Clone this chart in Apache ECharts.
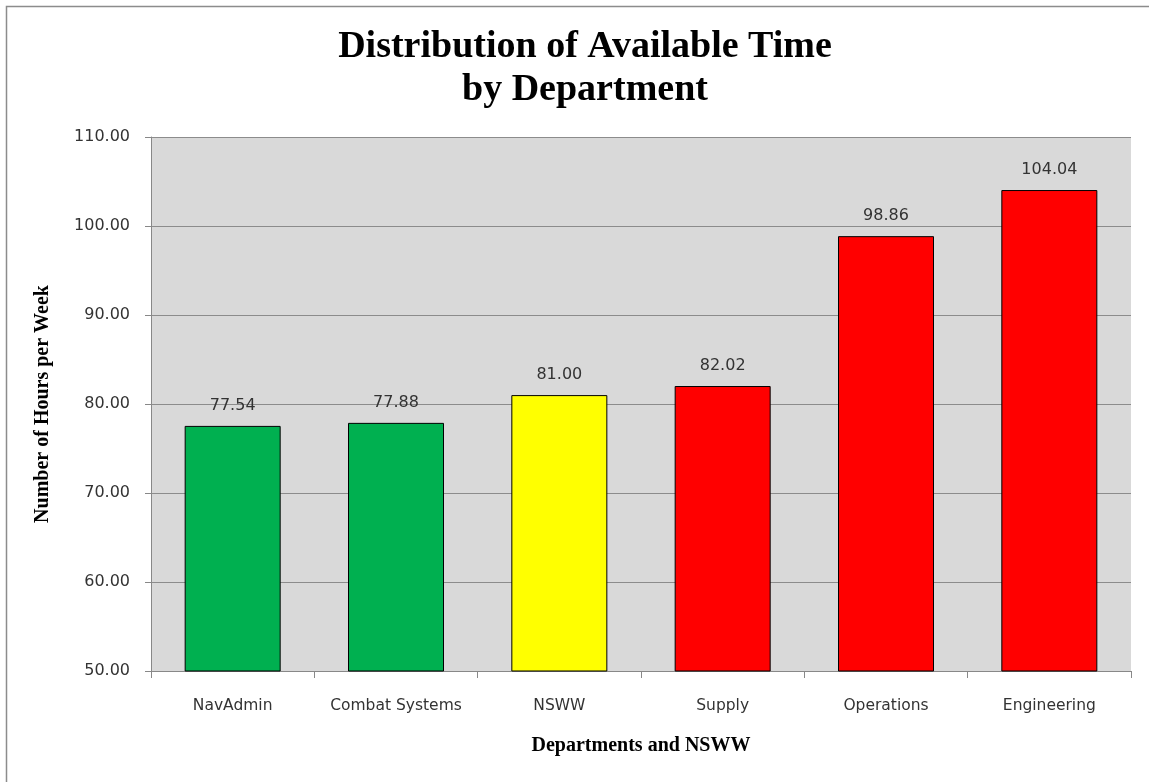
<!DOCTYPE html>
<html>
<head>
<meta charset="utf-8">
<script src="https://cdn.jsdelivr.net/npm/echarts@6/dist/echarts.min.js"></script>
<style>
  html, body { margin: 0; padding: 0; background: #fff; }
  #chart { width: 1149px; height: 782px; }
</style>
</head>
<body>
<div id="chart"></div>
<script>
const departments = ['NavAdmin', 'Combat Systems', 'NSWW', 'Supply', 'Operations', 'Engineering']
const hours = [77.54, 77.88, 81.00, 82.02, 98.86, 104.04]
const barColors = ['#00b050', '#00b050', '#ffff00', '#ff0000', '#ff0000', '#ff0000']

const chart = echarts.init(document.getElementById('chart'))

const options = {
  backgroundColor: '#fff',
  animation: false,
  graphic: [
    {
      // outer chart border (right / bottom edges are cropped off in the original)
      type: 'polyline',
      shape: { points: [[6.5, 782], [6.5, 6.5], [1149, 6.5]] },
      style: { fill: 'none', stroke: '#8c8c8c', lineWidth: 1.5 },
      silent: true,
    },
  ],
  title: {
    text: 'Distribution of Available Time\nby Department',
    left: 580,
    textAlign: 'center',
    top: 21,
    textStyle: {
      fontFamily: 'Liberation Serif',
      fontWeight: 'bold',
      fontSize: 38,
      lineHeight: 43,
      color: '#000',
    },
  },
  grid: {
    left: 151,
    top: 137,
    right: 18,
    bottom: 111,
    show: true,
    backgroundColor: '#d9d9d9',
    borderWidth: 0,
  },
  xAxis: {
    type: 'category',
    data: departments,
    name: 'Departments and NSWW',
    nameLocation: 'middle',
    nameGap: 65,
    nameTextStyle: {
      fontFamily: 'Liberation Serif',
      fontWeight: 'bold',
      fontSize: 20,
      color: '#000',
    },
    axisLine: { lineStyle: { color: '#888', width: 1 } },
    axisTick: { show: true, interval: 0, length: 7, lineStyle: { color: '#888' } },
    axisLabel: {
      interval: 0,
      hideOverlap: false,
      fontFamily: 'DejaVu Sans',
      fontSize: 15.5,
      color: '#333',
      margin: 27,
    },
  },
  yAxis: {
    type: 'value',
    min: 50,
    max: 110,
    interval: 10,
    name: 'Number of Hours per Week',
    nameLocation: 'middle',
    nameGap: 98,
    nameTextStyle: {
      fontFamily: 'Liberation Serif',
      fontWeight: 'bold',
      fontSize: 20,
      color: '#000',
    },
    axisLine: { show: true, lineStyle: { color: '#888', width: 1 } },
    axisTick: { show: true, length: 6, lineStyle: { color: '#888' } },
    axisLabel: {
      fontFamily: 'DejaVu Sans',
      fontSize: 16,
      color: '#333',
      margin: 21,
      formatter: (v) => v.toFixed(2),
    },
    splitLine: { show: true, lineStyle: { color: '#8c8c8c', width: 1 } },
  },
  series: [
    {
      type: 'bar',
      data: hours.map((v, i) => ({
        value: v,
        itemStyle: { color: barColors[i] },
      })),
      barWidth: 96,
      itemStyle: { borderColor: '#000', borderWidth: 1 },
      label: {
        show: true,
        position: 'top',
        distance: 12,
        fontFamily: 'DejaVu Sans',
        fontSize: 16,
        color: '#333',
        formatter: (p) => p.value.toFixed(2),
      },
    },
  ],
}

chart.setOption(options)
window.addEventListener('resize', function () {
  chart && chart.resize()
})
</script>
</body>
</html>
